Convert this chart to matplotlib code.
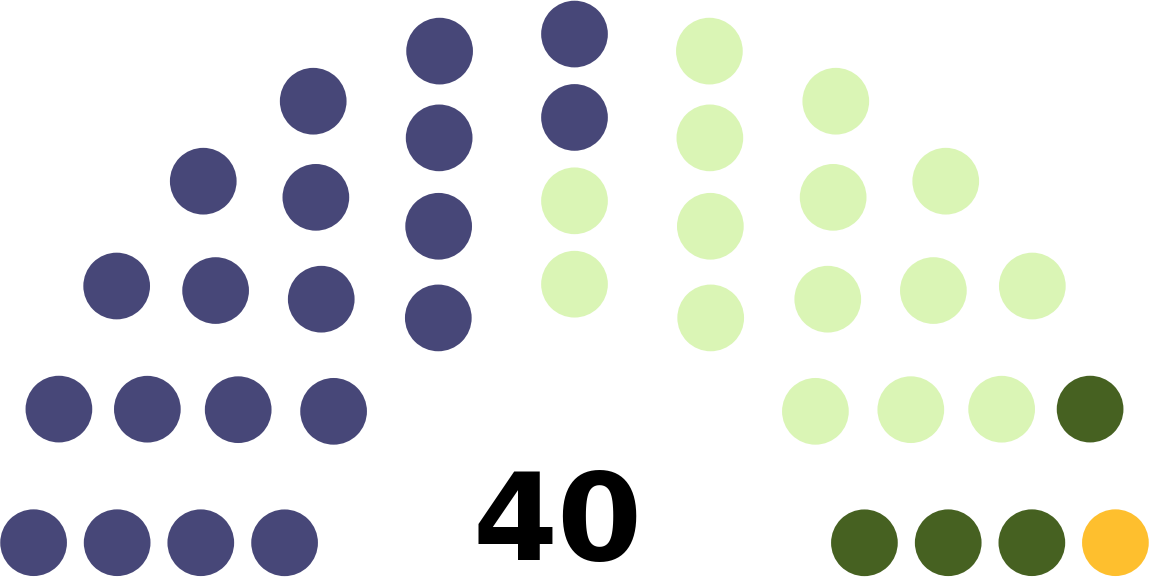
import math
import matplotlib
matplotlib.use("Agg")
import matplotlib.pyplot as plt
from matplotlib.patches import Circle

# Data: parties in seating order (left to right)
parties = ["Party A", "Party B", "Party C", "Party D"]
seats = [20, 15, 4, 1]
colors = ["#474778", "#DAF5B5", "#466121", "#FEBF2E"]
total_label = "40"

total = sum(seats)

# Parliament-diagram layout (semicircle of rows)
def row_capacity(rows):
    return [int(math.pi / (2 * math.asin(2.0 / (3.0 * rows + 4.0 * i - 2.0))))
            for i in range(1, rows + 1)]

rows = 1
while sum(row_capacity(rows)) < total:
    rows += 1
caps = row_capacity(rows)
cap_total = sum(caps)
radius = 0.4 / rows

positions = []
counts = []
for i in range(1, rows + 1):
    R = (3.0 * rows + 4.0 * i - 2.0) / (4.0 * rows)
    if i == rows:
        J = total - sum(counts)
    else:
        J = int(float(total) / cap_total * math.pi /
                (2 * math.asin(2.0 / (3.0 * rows + 4.0 * i - 2.0))))
    counts.append(J)
    off = math.sin(radius / R)
    for j in range(J):
        if J == 1:
            ang = math.pi / 2
        else:
            ang = j * (math.pi - 2.0 * off) / (J - 1.0) + off
        positions.append((round(ang, 9), R, R * math.cos(ang), R * math.sin(ang)))

positions.sort(key=lambda p: (-p[0], -p[1]))

seat_colors = []
for c, n in zip(colors, seats):
    seat_colors += [c] * n

W, H = 1149, 577
fig = plt.figure(figsize=(W / 100, H / 100), dpi=100)
ax = fig.add_axes([0, 0, 1, 1])
scale = 333.5          # pixels per layout unit
cx, cy = 574.5, 576.0  # pixel position of the arc centre (from top-left)
ax.set_xlim(-cx / scale, (W - cx) / scale)
ax.set_ylim(-(H - cy) / scale, cy / scale)
ax.set_aspect("equal")
ax.axis("off")

for (ang, R, x, y), col in zip(positions, seat_colors):
    ax.add_patch(Circle((x, y), radius, facecolor=col, edgecolor="none"))

ax.text((558 - cx) / scale, (cy - 560.5) / scale, total_label,
        ha="center", va="baseline", fontsize=88, fontweight="bold",
        family="DejaVu Sans", color="black")

fig.savefig("out.png", dpi=100)
